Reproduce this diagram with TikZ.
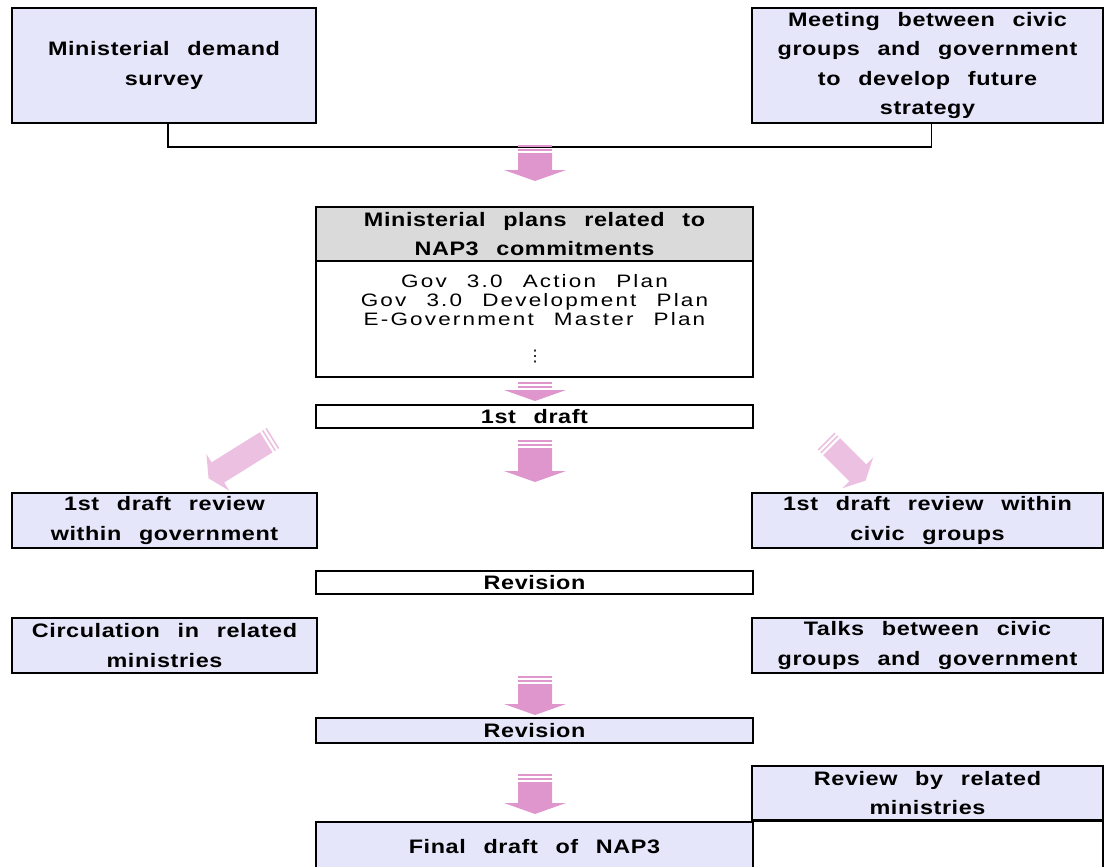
\documentclass[tikz,border=0pt]{standalone}
\usepackage{fontspec}
\setmainfont{Liberation Sans}
\newfontfamily\headfont{Liberation Sans}[FakeStretch=1.2,LetterSpace=3,WordSpace=2.5]
\newfontfamily\listfont{Liberation Sans}[FakeStretch=1.25,LetterSpace=12,WordSpace=2.4]
\newfontfamily\symfont{DejaVu Sans}
\definecolor{boxfill}{RGB}{230,230,250}
\definecolor{headfill}{RGB}{218,218,218}
\definecolor{pinkA}{RGB}{222,150,205}
\definecolor{pinkB}{RGB}{236,192,224}

\tikzset{
  box/.style={draw, line width=1.6pt, fill=boxfill, inner sep=0pt, align=center,
    font=\headfont\bfseries\fontsize{19.5}{29.6}\selectfont},
  plain/.style={box, fill=white},
  link/.style={line width=1.6pt},
  % block arrow, tail at the origin, pointing down, length #1
  parr/.pic={
    \path[pic actions] (-17,0) rectangle (17,1.6);
    \path[pic actions] (-17,4) rectangle (17,5.6);
    \path[pic actions] (-17,8) -- (17,8) -- (17,#1-11) -- (31,#1-11) -- (0,#1)
      -- (-31,#1-11) -- (-17,#1-11) -- cycle;
  }
}

\begin{document}
\begin{tikzpicture}[x=1pt,y=-1pt]
 \useasboundingbox (0,0) rectangle (1104,867);

 \node[box, minimum width=304, minimum height=115] (survey) at (164,65.5) {Ministerial demand\\survey};
 \node[box, minimum width=351, minimum height=115] (meeting) at (927.5,65.5) {Meeting between civic\\groups and government\\to develop future\\strategy};
 \coordinate (join) at (540,147);
 \draw[link] ([xshift=4]survey.south) |- (join) -| ([xshift=4]meeting.south);

 \pic[fill=pinkA] at (535,145) {parr=36};

 \node[box, fill=headfill, minimum width=437, minimum height=54] (plans) at (534.5,234) {Ministerial plans related to\\NAP3 commitments};
 \node[plain, minimum width=437, minimum height=116] (plansbody) at (534.5,319) {};
 \node[font=\listfont\fontsize{18}{19}\selectfont, align=center, inner sep=0pt] (planlist) at (534.5,300) {Gov 3.0 Action Plan\\Gov 3.0 Development Plan\\E-Government Master Plan};
 \node[inner sep=0pt, font=\symfont\fontsize{16}{16}\selectfont] (dots) at (535,357) {⋮};

 \pic[fill=pinkA] at (535,382) {parr=19};
 \node[plain, minimum width=437, minimum height=23] (draft) at (534.5,416.5) {1st draft};

 \pic[fill=pinkB, rotate=-58, xscale=0.7] at (273,438) {parr=76};
 \pic[fill=pinkA] at (535,440) {parr=42};
 \pic[fill=pinkB, rotate=45, xscale=0.7] at (826,441) {parr=56};

 \node[box, minimum width=305, minimum height=55] (revgov) at (164.5,520.5) {1st draft review\\within government};
 \node[box, minimum width=351, minimum height=55] (revcivic) at (927.5,520.5) {1st draft review within\\civic groups};

 \node[plain, minimum width=437, minimum height=23] (revision) at (534.5,582.5) {Revision};

 \node[box, minimum width=305, minimum height=55] (circ) at (164.5,645.5) {Circulation in related\\ministries};
 \node[box, minimum width=351, minimum height=55] (talks) at (927.5,645.5) {Talks between civic\\groups and government};

 \pic[fill=pinkA] at (535,676) {parr=39};
 \node[box, minimum width=437, minimum height=25] (revision2) at (534.5,730.5) {Revision};

 \pic[fill=pinkA] at (535,774) {parr=40};
 \node[box, minimum width=351, minimum height=54] (review) at (927.5,793) {Review by related\\ministries};
 \node[plain, minimum width=351, minimum height=55, anchor=north] (reviewlow) at (review.south) {};
 \node[box, minimum width=437, minimum height=50] (final) at (534.5,847) {Final draft of NAP3};
\end{tikzpicture}
\end{document}
